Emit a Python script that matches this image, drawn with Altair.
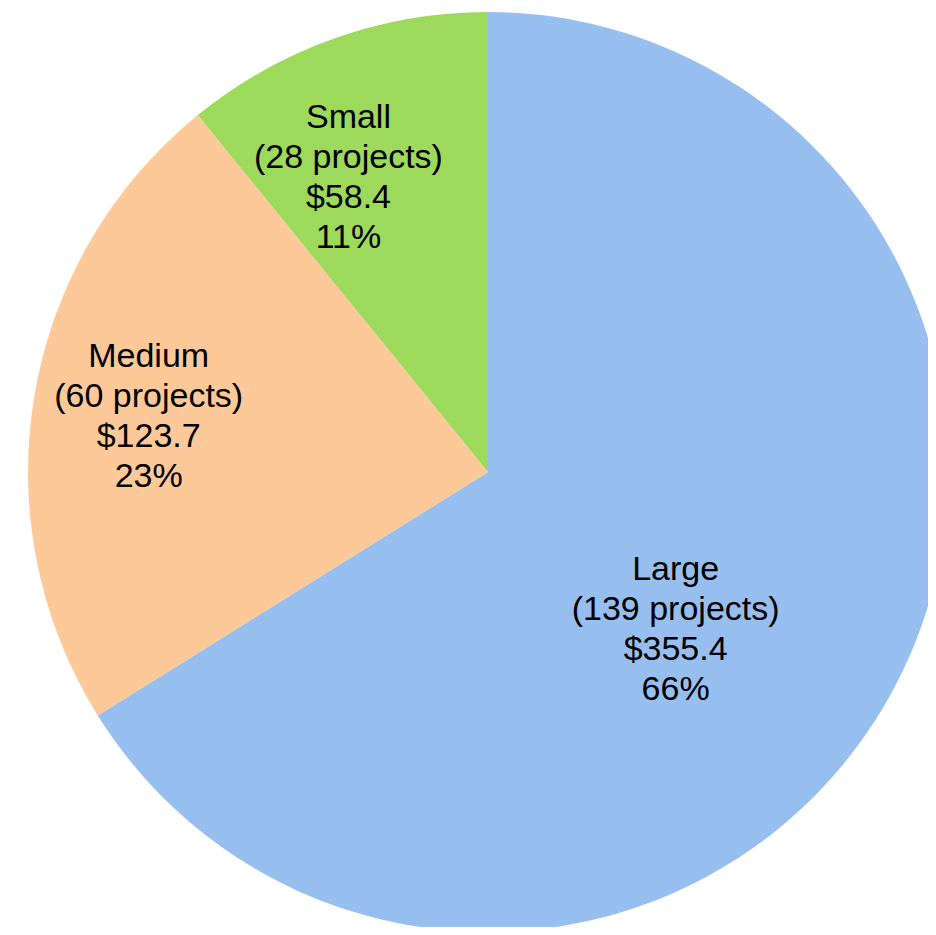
import altair as alt
import pandas as pd

categories = ["Large", "Medium", "Small"]
projects = [139, 60, 28]
amounts = [355.4, 123.7, 58.4]
order = [1, 2, 3]
colors = ["#96BEEF", "#FDC998", "#9DD95B"]

df = pd.DataFrame({"cat": categories, "n": projects, "value": amounts, "ord": order})

CX, CY, R = 480, 464, 460

base = alt.Chart(df).transform_joinaggregate(total="sum(value)").transform_calculate(
    label="[datum.cat, '(' + datum.n + ' projects)', '$' + format(datum.value, '.1f'), format(datum.value / datum.total, '.0%')]",
)

theta = alt.Theta("value:Q", stack=True)

pie = base.mark_arc().encode(
    theta=theta,
    order=alt.Order("ord:Q"),
    color=alt.Color("cat:N", scale=alt.Scale(domain=categories, range=colors), legend=None),
    x=alt.value(CX),
    y=alt.value(CY),
    radius=alt.value(R),
)

def text_layer(cat, r, dtheta):
    return base.mark_text(
        font="Liberation Sans", fontSize=34, lineHeight=40, color="black",
        align="center", baseline="middle", thetaOffset=dtheta, dy=-58,
    ).encode(
        theta=theta,
        order=alt.Order("ord:Q"),
        text=alt.condition(alt.datum.cat == cat, "label:N", alt.value("")),
        x=alt.value(CX),
        y=alt.value(CY),
        radius=alt.value(r),
    )

chart = alt.layer(
    pie,
    text_layer("Large", 244, 0.187),
    text_layer("Medium", 344, 0.0),
    text_layer("Small", 327, -0.0995),
).properties(
    width=920, height=919, padding=0,
    autosize=alt.AutoSizeParams(type="none"),
).configure_view(stroke=None)

chart.save("out.html", embed_options={"renderer": "svg", "actions": False})
